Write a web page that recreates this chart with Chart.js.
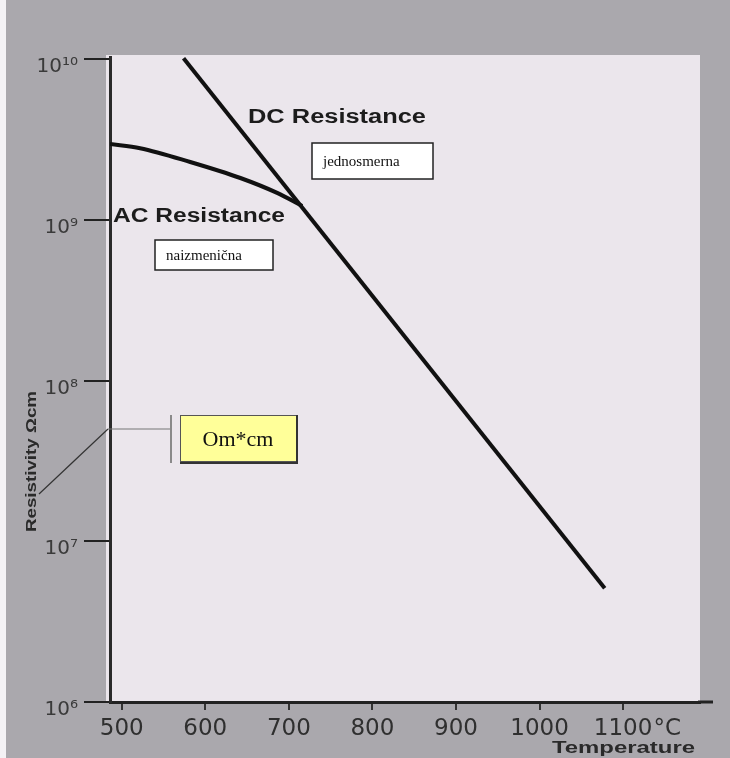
<!DOCTYPE html>
<html lang="sr">
<head>
  <meta charset="UTF-8" />
  <title>Resistivity vs Temperature</title>
  <script src="https://cdn.jsdelivr.net/npm/chart.js"></script>
  <style>
    body{margin:0;background:#aaa8ad;overflow:hidden}
    .wrap{width:730px;height:758px;position:relative}
  </style>
</head>
<body>
<div class="wrap"><canvas id="resChart"></canvas></div>
<script>
// values
const xTicks = [500, 600, 700, 800, 900, 1000, 1100];
const yTicks = [1e6, 1e7, 1e8, 1e9, 1e10];
const dcTemp = [574, 1078];
const dcRes  = [1.01e10, 5.1e6];
const acTemp = [486, 522, 582, 642, 686, 716];
const acRes  = [2.96e9, 2.79e9, 2.29e9, 1.82e9, 1.47e9, 1.22e9];

const SUP = {'0':'⁰','1':'¹','2':'²','3':'³','4':'⁴','5':'⁵','6':'⁶','7':'⁷','8':'⁸','9':'⁹'};
function powLabel(v){
  const e = String(Math.round(Math.log10(v)));
  return '10' + e.split('').map(c=>SUP[c]).join('');
}

// bold text stretched to a given width (the scan uses a wide face)
function wideText(ctx, txt, x, y, size, w){
  ctx.save();
  ctx.font = 'bold ' + size + 'px "Liberation Sans", Arial, sans-serif';
  const m = ctx.measureText(txt).width;
  ctx.translate(x, y);
  ctx.scale(w / m, 1);
  ctx.fillText(txt, 0, 0);
  ctx.restore();
}

const paper = {
  id: 'paper',
  beforeDraw(chart){
    const {ctx, chartArea:a} = chart;
    ctx.save();
    ctx.fillStyle = '#aaa8ad';
    ctx.fillRect(0, 0, chart.width, chart.height);
    ctx.fillStyle = '#f4f2f5';
    ctx.fillRect(0, 0, 6, chart.height);
    ctx.fillStyle = '#ebe6ec';
    ctx.fillRect(a.left - 4, a.top - 2, a.right - a.left + 4, a.bottom - a.top + 2);
    ctx.restore();
  },
  afterDraw(chart){
    const {ctx, chartArea:a} = chart;
    const xs = chart.scales.x;
    ctx.save();
    // axis line runs a bit past the plot
    ctx.strokeStyle = '#222'; ctx.lineWidth = 3;
    ctx.beginPath(); ctx.moveTo(a.right - 2, a.bottom); ctx.lineTo(713, a.bottom); ctx.stroke();

    ctx.fillStyle = '#1c1c1c';
    ctx.textBaseline = 'alphabetic';
    wideText(ctx, 'DC Resistance', 248, 123, 20, 178);
    wideText(ctx, 'AC Resistance', 113, 222, 20, 172);
    ctx.fillStyle = '#2a2a2a';
    wideText(ctx, 'Temperature', 552, 753, 16, 143);

    // °C after the last tick label
    ctx.font = '23px "DejaVu Sans", sans-serif';
    ctx.fillStyle = '#2f2f2f';
    ctx.textBaseline = 'middle';
    const lw = ctx.measureText('1100').width;
    ctx.fillText('°C', xs.getPixelForValue(1100) + lw / 2 + 1, 729);

    // y title
    ctx.save();
    ctx.translate(36, 462);
    ctx.rotate(-Math.PI / 2);
    ctx.fillStyle = '#2a2a2a';
    ctx.textBaseline = 'alphabetic';
    wideText(ctx, 'Resistivity Ωcm', -70, 0, 15, 141);
    ctx.restore();

    // white label boxes
    ctx.textBaseline = 'middle';
    ctx.font = '15px "Liberation Serif", serif';
    [['jednosmerna', 312, 143, 121, 36], ['naizmenična', 155, 240, 118, 30]].forEach(b=>{
      ctx.fillStyle = '#fff';
      ctx.fillRect(b[1], b[2], b[3], b[4]);
      ctx.strokeStyle = '#222'; ctx.lineWidth = 1.5;
      ctx.strokeRect(b[1], b[2], b[3], b[4]);
      ctx.fillStyle = '#111';
      ctx.fillText(b[0], b[1] + 11, b[2] + b[4] / 2 + 1);
    });

    // unit callout
    ctx.strokeStyle = '#333'; ctx.lineWidth = 1.2;
    ctx.beginPath(); ctx.moveTo(39, 494); ctx.lineTo(108, 429); ctx.stroke();
    ctx.strokeStyle = '#777'; ctx.lineWidth = 1.2;
    ctx.beginPath(); ctx.moveTo(108, 429); ctx.lineTo(171, 429); ctx.stroke();
    ctx.strokeStyle = '#8a8a8a'; ctx.lineWidth = 2;
    ctx.beginPath(); ctx.moveTo(171, 415); ctx.lineTo(171, 463); ctx.stroke();
    ctx.fillStyle = '#ffff99';
    ctx.fillRect(180, 415, 117, 47);
    ctx.strokeStyle = '#555'; ctx.lineWidth = 1;
    ctx.strokeRect(180.5, 415.5, 116, 46);
    ctx.strokeStyle = '#333'; ctx.lineWidth = 2;
    ctx.beginPath(); ctx.moveTo(297, 415); ctx.lineTo(297, 463); ctx.lineTo(180, 463); ctx.stroke();
    ctx.fillStyle = '#111';
    ctx.font = '22px "Liberation Serif", serif';
    ctx.textAlign = 'center';
    ctx.fillText('Om*cm', 238, 440);
    ctx.restore();
  }
};

new Chart(document.getElementById('resChart'), {
  type: 'line',
  data: {
    datasets: [
      {label: 'DC Resistance', data: dcTemp.map((t,i)=>({x:t, y:dcRes[i]})),
       borderColor: '#111', borderWidth: 4, pointRadius: 0, fill: false},
      {label: 'AC Resistance', data: acTemp.map((t,i)=>({x:t, y:acRes[i]})),
       borderColor: '#111', borderWidth: 4, pointRadius: 0, fill: false,
       cubicInterpolationMode: 'monotone'}
    ]
  },
  options: {
    responsive: true,
    maintainAspectRatio: false,
    animation: false,
    layout: {padding: {top: 57, right: 30, left: 0, bottom: 0}},
    plugins: {legend: {display: false}, tooltip: {enabled: false}},
    scales: {
      x: {
        type: 'linear', min: 486, max: 1192,
        afterBuildTicks: s => { s.ticks = xTicks.map(v=>({value:v})); },
        afterFit: s => { s.height = 56; },
        grid: {drawOnChartArea: false, drawTicks: true, tickLength: 8, color: '#333', lineWidth: 2},
        border: {display: true, color: '#222', width: 3},
        ticks: {callback: v => String(v), font: {family: 'DejaVu Sans', size: 23},
                color: '#2f2f2f', padding: 5, maxRotation: 0, autoSkip: false}
      },
      y: {
        type: 'logarithmic', min: 1e6, max: 1.03e10,
        afterBuildTicks: s => { s.ticks = yTicks.map(v=>({value:v})); },
        afterFit: s => { s.width = 110; },
        grid: {drawOnChartArea: false, drawTicks: true, tickLength: 26, color: '#222', lineWidth: 2},
        border: {display: true, color: '#2a2a2a', width: 3},
        ticks: {callback: v => powLabel(v), font: {family: 'DejaVu Sans', size: 20},
                color: '#3a3a3a', padding: 6, labelOffset: 8, autoSkip: false}
      }
    }
  },
  plugins: [paper]
});
</script>
</body>
</html>
